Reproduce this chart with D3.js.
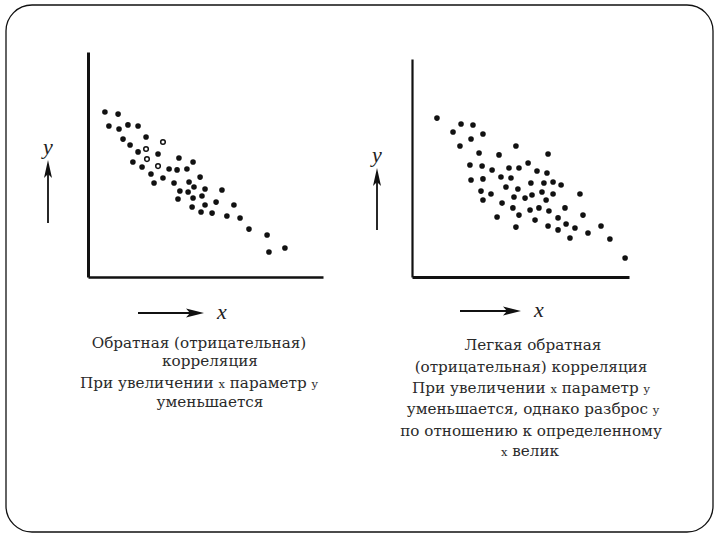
<!DOCTYPE html>
<html>
  <head>
    <meta charset="utf-8" />
    <style>
      body{
        margin: 0;
        background: white;
      }
      .caption{
        font-family: 'DejaVu Serif', serif;
        font-size: 15.2px;
        fill: #2a2a2a;
      }
      .small{
        font-size: 11.5px;
      }
      .hand{
        font-family: 'Liberation Serif', serif;
        font-style: italic;
        font-size: 22px;
        fill: #222;
      }
    </style>
  </head>
  <body>
    <script src="https://d3js.org/d3.v7.min.js"></script>
    <svg id="chart"></svg>
    <script>
      var width = 720;
      var height = 540;

      // strong inverse correlation (left panel), values in 0..100 units
      var leftX = [7.2, 12.8, 8.9, 13.2, 17.0, 21.3, 14.9, 24.7, 31.9, 17.9, 21.3, 24.7, 29.8, 19.1, 25.1, 23.0,
        38.7, 44.7, 29.8, 34.5, 37.9, 42.1, 26.8, 31.9, 47.7, 28.1, 36.6, 43.0, 39.1, 45.1, 49.8, 42.6,
        57.0, 38.3, 44.7, 48.5, 54.5, 44.3, 49.8, 62.1, 48.1, 52.8, 59.1, 64.7, 68.5, 76.2, 77.0, 83.8];
      var leftY = [73.3, 72.4, 67.1, 65.8, 67.6, 67.1, 61.3, 62.2, 60.0, 58.7, 55.6, 56.9, 54.7, 51.1, 52.4, 48.9,
        52.9, 51.1, 49.3, 48.0, 47.6, 48.0, 45.8, 44.0, 44.4, 41.8, 41.8, 42.2, 38.2, 40.0, 39.1, 37.8,
        38.7, 34.7, 35.1, 36.0, 33.3, 31.1, 32.0, 32.0, 28.9, 28.4, 27.1, 26.2, 21.3, 18.7, 11.1, 12.9];
      // points drawn as open circles in the left panel
      var leftOpen = [8, 11, 14, 18];

      // weak inverse correlation (right panel)
      var rightX = [11.5, 22.6, 28.1, 18.9, 32.7, 27.2, 22.1, 47.9, 30.9, 40.1, 62.7, 26.7, 32.3, 36.9, 44.7,
        49.3, 53.5, 57.6, 62.2, 27.2, 32.7, 41.0, 45.6, 54.8, 60.8, 65.0, 68.7, 43.3, 48.8, 31.8, 36.4,
        47.0, 52.1, 55.3, 59.9, 65.0, 77.4, 32.7, 61.8, 41.5, 46.5, 54.4, 58.5, 63.1, 70.5, 49.3, 39.2,
        78.8, 67.3, 56.7, 71.0, 62.7, 47.9, 75.1, 67.3, 87.1, 81.1, 72.8, 91.2, 98.2];
      var rightY = [72.9, 70.2, 69.7, 66.5, 65.6, 63.3, 60.1, 60.1, 56.9, 56.0, 56.4, 51.4, 50.9, 49.1, 50.0,
        50.0, 52.3, 48.6, 47.7, 44.5, 45.0, 45.9, 45.4, 43.1, 43.1, 43.6, 42.2, 41.3, 40.4, 39.4, 38.1,
        36.7, 36.2, 37.6, 39.0, 38.1, 38.1, 35.3, 35.3, 33.9, 31.7, 30.7, 31.7, 30.3, 31.7, 28.4, 27.5,
        28.4, 27.1, 26.1, 24.3, 23.4, 22.9, 22.5, 21.6, 23.4, 20.2, 17.9, 17.4, 8.7];

      // "|" marks where a small x / y letter starts
      var leftCaption = ["Обратная (отрицательная)", "корреляция", "При увеличении |x параметр |y", "уменьшается"];
      var rightCaption = ["Легкая обратная", "(отрицательная) корреляция", "При увеличении |x параметр |y",
        "уменьшается, однако  разброс |y", "по отношению к определенному", "|x  велик"];

      var svg = d3.select("#chart")
        .attr("width", width)
        .attr("height", height);

      // slide frame
      svg.append("rect")
        .attr("x", 6).attr("y", 5)
        .attr("width", 707).attr("height", 527)
        .attr("rx", 26).attr("ry", 26)
        .attr("fill", "white")
        .attr("stroke", "#111")
        .attr("stroke-width", 1.3);

      function drawPanel(p) {
        var x = d3.scaleLinear().domain([0, 100]).range([p.left, p.right]);
        var y = d3.scaleLinear().domain([0, 100]).range([p.bottom, p.top]);

        var g = svg.append("g");

        g.append("g")
          .attr("transform", "translate(0," + p.bottom + ")")
          .call(d3.axisBottom(x).ticks(0).tickSizeOuter(0))
          .select(".domain")
          .attr("stroke", "#111")
          .attr("stroke-width", p.xw);

        g.append("g")
          .attr("transform", "translate(" + p.left + ",0)")
          .call(d3.axisLeft(y).ticks(0).tickSizeOuter(0))
          .select(".domain")
          .attr("stroke", "#111")
          .attr("stroke-width", p.yw);

        var pts = p.xs.map(function (v, i) {
          return { x: v, y: p.ys[i], open: p.open.indexOf(i) >= 0 };
        });

        g.selectAll("circle")
          .data(pts)
          .enter()
          .append("circle")
          .attr("cx", function (d) { return x(d.x); })
          .attr("cy", function (d) { return y(d.y); })
          .attr("r", function (d) { return d.open ? 2.3 : 2.8; })
          .attr("fill", function (d) { return d.open ? "white" : "#111"; })
          .attr("stroke", "#111")
          .attr("stroke-width", function (d) { return d.open ? 1.5 : 0; });

        // y arrow + label
        var ax = p.yArrow[0], tip = p.yArrow[1];
        g.append("line")
          .attr("x1", ax).attr("y1", p.yArrow[2])
          .attr("x2", ax).attr("y2", tip + 8)
          .attr("stroke", "#111").attr("stroke-width", 1.8);
        g.append("path")
          .attr("d", "M" + ax + "," + tip + " L" + (ax + 4) + "," + (tip + 18) +
            " L" + ax + "," + (tip + 14) + " L" + (ax - 4) + "," + (tip + 18) + " Z")
          .attr("fill", "#111");
        g.append("text")
          .attr("class", "hand")
          .attr("x", ax).attr("y", tip - 6)
          .attr("text-anchor", "middle")
          .text("y");

        // x arrow + label
        var ay = p.xArrow[2], end = p.xArrow[1];
        g.append("line")
          .attr("x1", p.xArrow[0]).attr("y1", ay)
          .attr("x2", end - 8).attr("y2", ay)
          .attr("stroke", "#111").attr("stroke-width", 2);
        g.append("path")
          .attr("d", "M" + end + "," + ay + " L" + (end - 18) + "," + (ay - 4.5) +
            " L" + (end - 14) + "," + ay + " L" + (end - 18) + "," + (ay + 4.5) + " Z")
          .attr("fill", "#111");
        g.append("text")
          .attr("class", "hand")
          .attr("x", end + 18).attr("y", ay + 6)
          .attr("text-anchor", "middle")
          .text("x");

        // caption
        p.caption.forEach(function (line, i) {
          var t = g.append("text")
            .attr("class", "caption")
            .attr("x", p.capX[i])
            .attr("y", p.capY[i])
            .attr("text-anchor", "middle");
          line.split("|").forEach(function (part, j) {
            if (j > 0) {
              t.append("tspan").attr("class", "small").text(part[0]);
              t.append("tspan").text(part.slice(1));
            } else if (part.length) {
              t.append("tspan").text(part);
            }
          });
        });
      }

      drawPanel({
        left: 88, right: 323, top: 52, bottom: 277, xw: 2.6, yw: 3,
        xs: leftX, ys: leftY, open: leftOpen,
        yArrow: [48, 160, 223], xArrow: [138, 204, 313],
        caption: leftCaption,
        capX: [199, 210, 199, 210],
        capY: [348, 366, 388, 407]
      });

      drawPanel({
        left: 412, right: 629, top: 59, bottom: 277, xw: 3, yw: 2.2,
        xs: rightX, ys: rightY, open: [],
        yArrow: [377, 168, 230], xArrow: [460, 521, 311],
        caption: rightCaption,
        capX: [533, 531, 531, 533, 531, 530],
        capY: [350, 372, 393, 414, 436, 456]
      });
    </script>
  </body>
</html>
